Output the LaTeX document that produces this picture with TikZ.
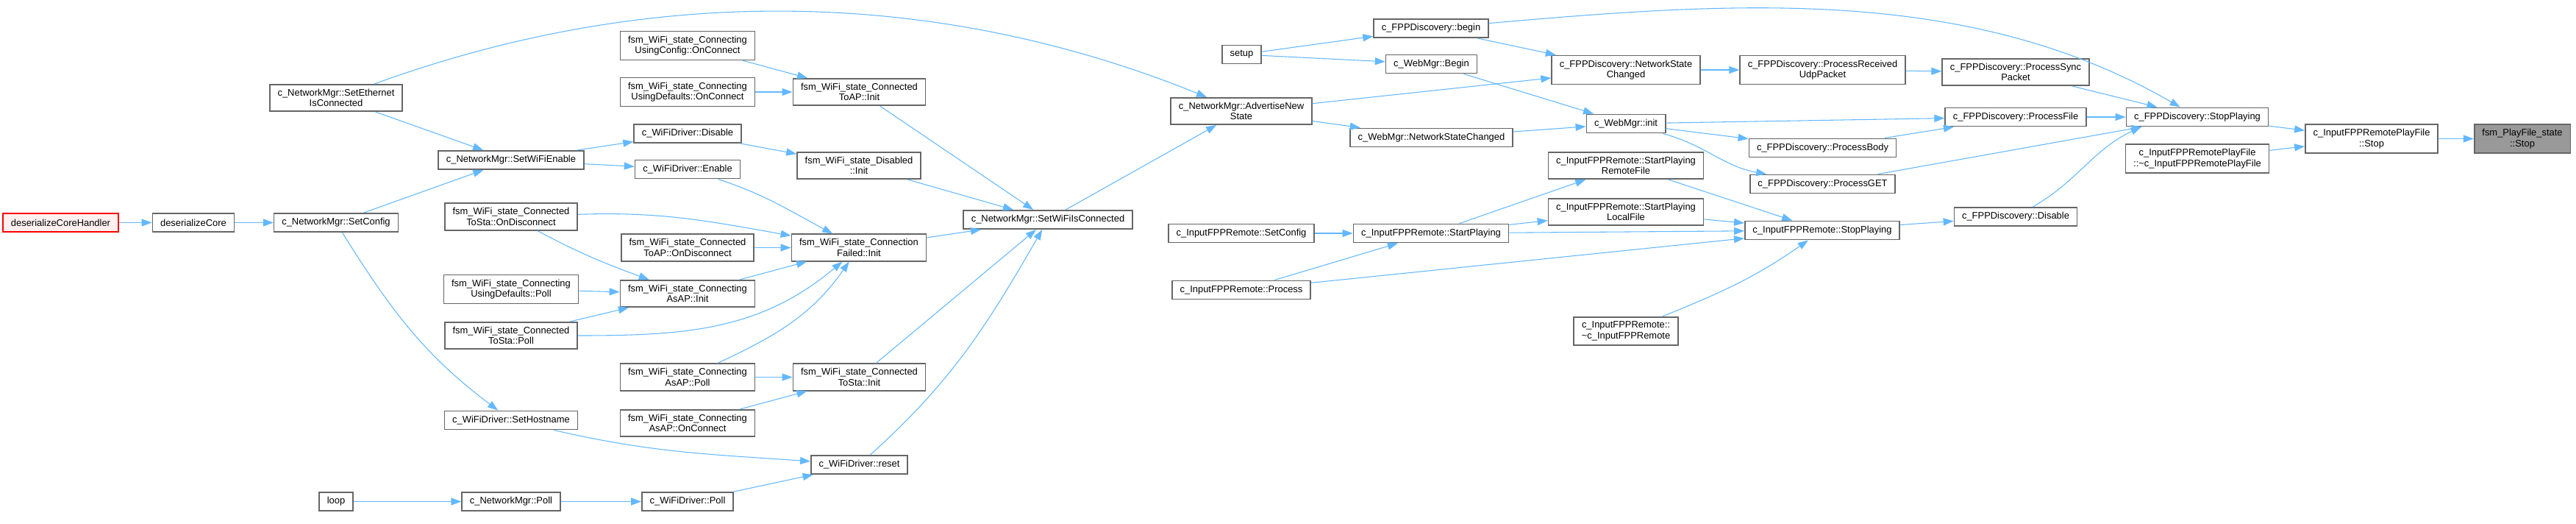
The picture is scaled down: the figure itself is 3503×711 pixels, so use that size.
\documentclass[tikz,border=0pt]{standalone}
\usepackage{fontspec}
\setmainfont{Liberation Sans}
\usepackage{xcolor}
\usepackage{tikz}
\usetikzlibrary{arrows.meta}
\definecolor{edgeblue}{HTML}{63B8FF}
\definecolor{boxline}{HTML}{666666}
\definecolor{rootfill}{HTML}{999999}
\definecolor{hotsoft}{HTML}{FFF0F0}
\tikzset{
  cbox/.style={draw=boxline,fill=white,line width=1.2pt,align=center,inner xsep=8pt,inner ysep=4.6pt,minimum height=19pt},
  chot/.style={cbox,draw=red,fill=hotsoft},
  croot/.style={cbox,fill=rootfill},
  carr/.style={-{Triangle[length=10.5pt,width=7.5pt]},line width=0.8pt,draw=edgeblue}
}
\begin{document}
\begin{tikzpicture}[x=0.75pt,y=-0.75pt,font=\fontsize{9.7}{11}\selectfont]
  \useasboundingbox (0,0) rectangle (3503,711);
  \node[chot] (a1) at (82.5,302.5) {deserializeCoreHandler};
  \node[cbox] (b1) at (263,302.5) {deserializeCore};
  \node[cbox] (c1) at (457,133) {c\_NetworkMgr::SetEthernet\\IsConnected};
  \node[cbox] (c2) at (457,302.5) {c\_NetworkMgr::SetConfig};
  \node[cbox] (c3) at (457,681.5) {loop};
  \node[cbox] (d1) at (695,217.5) {c\_NetworkMgr::SetWiFiEnable};
  \node[cbox] (d2) at (695,294.5) {fsm\_WiFi\_state\_Connected\\ToSta::OnDisconnect};
  \node[cbox] (d3) at (695,393) {fsm\_WiFi\_state\_Connecting\\UsingDefaults::Poll};
  \node[cbox] (d4) at (695,456) {fsm\_WiFi\_state\_Connected\\ToSta::Poll};
  \node[cbox] (d5) at (695,571) {c\_WiFiDriver::SetHostname};
  \node[cbox] (d6) at (695,681.5) {c\_NetworkMgr::Poll};
  \node[cbox] (e1) at (935,62) {fsm\_WiFi\_state\_Connecting\\UsingConfig::OnConnect};
  \node[cbox] (e2) at (935,125) {fsm\_WiFi\_state\_Connecting\\UsingDefaults::OnConnect};
  \node[cbox] (e3) at (935,181.5) {c\_WiFiDriver::Disable};
  \node[cbox] (e4) at (935,230) {c\_WiFiDriver::Enable};
  \node[cbox] (e5) at (935,336.5) {fsm\_WiFi\_state\_Connected\\ToAP::OnDisconnect};
  \node[cbox] (e6) at (935,399) {fsm\_WiFi\_state\_Connecting\\AsAP::Init};
  \node[cbox] (e7) at (935,512.5) {fsm\_WiFi\_state\_Connecting\\AsAP::Poll};
  \node[cbox] (e8) at (935,575) {fsm\_WiFi\_state\_Connecting\\AsAP::OnConnect};
  \node[cbox] (e9) at (935,681.5) {c\_WiFiDriver::Poll};
  \node[cbox] (f1) at (1168.5,125) {fsm\_WiFi\_state\_Connected\\ToAP::Init};
  \node[cbox] (f2) at (1168,225) {fsm\_WiFi\_state\_Disabled\\::Init};
  \node[cbox] (f3) at (1168,336.5) {fsm\_WiFi\_state\_Connection\\Failed::Init};
  \node[cbox] (f4) at (1168.5,512.5) {fsm\_WiFi\_state\_Connected\\ToSta::Init};
  \node[cbox] (f5) at (1168.5,631.5) {c\_WiFiDriver::reset};
  \node[cbox] (g1) at (1425,298.5) {c\_NetworkMgr::SetWiFiIsConnected};
  \node[cbox] (h1) at (1688.5,74) {setup};
  \node[cbox] (h2) at (1688,151) {c\_NetworkMgr::AdvertiseNew\\State};
  \node[cbox] (h3) at (1688,317) {c\_InputFPPRemote::SetConfig};
  \node[cbox] (h4) at (1688,394) {c\_InputFPPRemote::Process};
  \node[cbox] (i1) at (1946,38.5) {c\_FPPDiscovery::begin};
  \node[cbox] (i2) at (1946.5,87) {c\_WebMgr::Begin};
  \node[cbox] (i3) at (1946.5,187) {c\_WebMgr::NetworkStateChanged};
  \node[cbox] (i4) at (1946,317) {c\_InputFPPRemote::StartPlaying};
  \node[cbox] (j1) at (2211,95) {c\_FPPDiscovery::NetworkState\\Changed};
  \node[cbox] (j2) at (2211,168) {c\_WebMgr::init};
  \node[cbox] (j3) at (2211,225) {c\_InputFPPRemote::StartPlaying\\RemoteFile};
  \node[cbox] (j4) at (2211,288) {c\_InputFPPRemote::StartPlaying\\LocalFile};
  \node[cbox] (j5) at (2211,450) {c\_InputFPPRemote::\\\textasciitilde c\_InputFPPRemote};
  \node[cbox] (k1) at (2478.5,95) {c\_FPPDiscovery::ProcessReceived\\UdpPacket};
  \node[cbox] (k2) at (2478.5,201) {c\_FPPDiscovery::ProcessBody};
  \node[cbox] (k3) at (2478.5,250) {c\_FPPDiscovery::ProcessGET};
  \node[cbox] (k4) at (2478,313) {c\_InputFPPRemote::StopPlaying};
  \node[cbox] (l1) at (2741,98) {c\_FPPDiscovery::ProcessSync\\Packet};
  \node[cbox] (l2) at (2741,159) {c\_FPPDiscovery::ProcessFile};
  \node[cbox] (l3) at (2741,294.5) {c\_FPPDiscovery::Disable};
  \node[cbox] (m1) at (2988,159) {c\_FPPDiscovery::StopPlaying};
  \node[cbox] (m2) at (2988,215.5) {c\_InputFPPRemotePlayFile\\::\textasciitilde c\_InputFPPRemotePlayFile};
  \node[cbox] (n1) at (3225,188.5) {c\_InputFPPRemotePlayFile\\::Stop};
  \node[croot] (o1) at (3430,188.5) {fsm\_PlayFile\_state\\::Stop};
  \draw[carr] (a1) -- (b1);
  \draw[carr] (b1) -- (c2);
  \draw[carr] (c2) -- (d1);
  \draw[carr] (c2) to[out=-58,in=143] (d5);
  \draw[carr] (c1) -- (d1);
  \draw[carr] (c1) to[out=20,in=158,looseness=0.9] (h2);
  \draw[carr] (c3) -- (d6);
  \draw[carr] (d1) -- (e3);
  \draw[carr] (d1) -- (e4);
  \draw[carr] (d2) to[out=2,in=170] (f3);
  \draw[carr] (d2) to[out=-28,in=160] (e6);
  \draw[carr] (d3) -- (e6);
  \draw[carr] (d4) -- (e6);
  \draw[carr] (d4) to[out=0,in=-140] (f3);
  \draw[carr] (d5) to[out=-13,in=176] (f5);
  \draw[carr] (d6) -- (e9);
  \draw[carr] (e1) -- (f1);
  \draw[carr] (e2) -- (f1);
  \draw[carr] (e3) -- (f2);
  \draw[carr] (e4) to[out=-18,in=152] (f3);
  \draw[carr] (e5) -- (f3);
  \draw[carr] (e6) -- (f3);
  \draw[carr] (e7) to[out=25,in=-125] (f3);
  \draw[carr] (e7) -- (f4);
  \draw[carr] (e8) -- (f4);
  \draw[carr] (e9) -- (f5);
  \draw[carr] (f1) -- (g1);
  \draw[carr] (f2) -- (g1);
  \draw[carr] (f3) -- (g1);
  \draw[carr] (f4) -- (g1);
  \draw[carr] (f5) to[out=42,in=-120] (g1);
  \draw[carr] (g1) -- (h2);
  \draw[carr] (h1) -- (i1);
  \draw[carr] (h1) -- (i2);
  \draw[carr] (h2) -- (j1);
  \draw[carr] (h2) -- (i3);
  \draw[carr] (h3) -- (i4);
  \draw[carr] (h4) -- (i4);
  \draw[carr] (h4) -- (k4);
  \draw[carr] (i1) -- (j1);
  \draw[carr] (i1) to[out=5,in=150,looseness=0.9] (m1);
  \draw[carr] (i2) -- (j2);
  \draw[carr] (i3) -- (j2);
  \draw[carr] (i4) -- (j3);
  \draw[carr] (i4) -- (j4);
  \draw[carr] (i4) -- (k4);
  \draw[carr] (j1) -- (k1);
  \draw[carr] (j2) -- (l2);
  \draw[carr] (j2) -- (k2);
  \draw[carr] (j2) to[out=-15,in=170] (k3);
  \draw[carr] (j3) -- (k4);
  \draw[carr] (j4) -- (k4);
  \draw[carr] (j5) to[out=22,in=-145] (k4);
  \draw[carr] (k1) -- (l1);
  \draw[carr] (k2) -- (l2);
  \draw[carr] (k3) -- (m1);
  \draw[carr] (k4) -- (l3);
  \draw[carr] (l1) -- (m1);
  \draw[carr] (l2) -- (m1);
  \draw[carr] (l3) to[out=30,in=-155] (m1.190);
  \draw[carr] (m1) -- (n1);
  \draw[carr] (m2) -- (n1);
  \draw[carr] (n1) -- (o1);
\end{tikzpicture}
\end{document}
